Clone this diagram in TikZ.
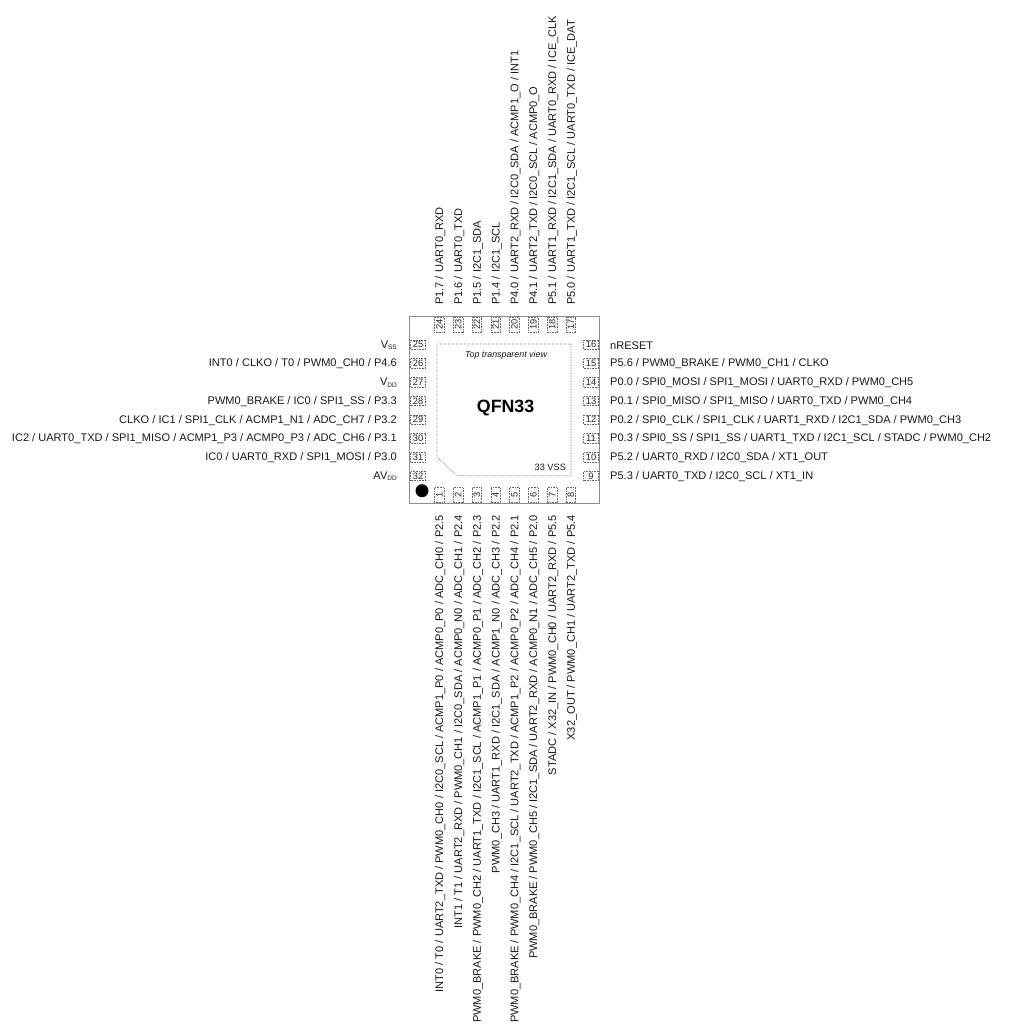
\documentclass[tikz,border=0pt]{standalone}
\usepackage{fontspec}
\setmainfont{Liberation Sans}
\newcommand{\pinsub}[1]{\raisebox{-1.5pt}{\fontsize{6.5}{6.5}\selectfont #1}}
\tikzset{
	pad/.style={draw=black!60, densely dotted, line width=0.6pt, inner sep=0pt, minimum width=15pt, minimum height=9.5pt, font=\fontsize{9.3}{9.3}\selectfont, text=black!85},
	pinlabel/.style={inner sep=0pt, text=black!90, font=\fontsize{11.05}{11.05}\selectfont}
}
\begin{document}
\begin{tikzpicture}[x=1pt,y=-1pt]
	\useasboundingbox (0,0) rectangle (1013,1034);
	% Package
	\draw[black!45, line width=0.8pt] (409.5,316.5) rectangle (599,503);
	\draw[black!60, densely dotted, line width=0.6pt] (437,344) -- (571,344) -- (571,475.7) -- (457,475.7) -- (437,457) -- cycle;
	\fill (422,490.7) circle (6.5);
	\node[font=\fontsize{17.8}{17.8}\selectfont\bfseries] (title) at (505.6,408.3) {QFN33};
	\node[pinlabel, font=\fontsize{8.85}{8.85}\selectfont\itshape] (view) at (506,355) {Top transparent view};
	\node[pinlabel, font=\fontsize{9.2}{9.2}\selectfont] (epad) at (550.3,467.3) {33 VSS};
	% Left pins
	\foreach \num/\txt [count=\i from 0] in {
		25/{V\pinsub{SS}},
		26/{INT0 / CLKO / T0 / PWM0\_CH0 / P4.6},
		27/{V\pinsub{DD}},
		28/{PWM0\_BRAKE / IC0 / SPI1\_SS / P3.3},
		29/{CLKO / IC1 / SPI1\_CLK / ACMP1\_N1 / ADC\_CH7 / P3.2},
		30/{IC2 / UART0\_TXD / SPI1\_MISO / ACMP1\_P3 / ACMP0\_P3 / ADC\_CH6 / P3.1},
		31/{IC0 / UART0\_RXD / SPI1\_MOSI / P3.0},
		32/{AV\pinsub{DD}}} {
		\node[pad] (pin\num) at (418,344.7+18.74*\i) {\num};
		\node[pinlabel, anchor=east] (lab\num) at (397,345.2+18.74*\i) {\txt};
	}
	% Right pins
	\foreach \num/\txt [count=\i from 0] in {
		16/{nRESET},
		15/{P5.6 / PWM0\_BRAKE / PWM0\_CH1 / CLKO},
		14/{P0.0 / SPI0\_MOSI / SPI1\_MOSI / UART0\_RXD / PWM0\_CH5},
		13/{P0.1 / SPI0\_MISO / SPI1\_MISO / UART0\_TXD / PWM0\_CH4},
		12/{P0.2 / SPI0\_CLK / SPI1\_CLK / UART1\_RXD / I2C1\_SDA / PWM0\_CH3},
		11/{P0.3 / SPI0\_SS / SPI1\_SS / UART1\_TXD / I2C1\_SCL / STADC / PWM0\_CH2},
		10/{P5.2 / UART0\_RXD / I2C0\_SDA / XT1\_OUT},
		9/{P5.3 / UART0\_TXD / I2C0\_SCL / XT1\_IN}} {
		\node[pad] (pin\num) at (591,344.7+18.74*\i) {\num};
		\node[pinlabel, anchor=west] (lab\num) at (610,345.2+18.74*\i) {\txt};
	}
	% Top pins
	\foreach \num/\txt [count=\i from 0] in {
		24/{P1.7 / UART0\_RXD},
		23/{P1.6 / UART0\_TXD},
		22/{P1.5 / I2C1\_SDA},
		21/{P1.4 / I2C1\_SCL},
		20/{P4.0 / UART2\_RXD / I2C0\_SDA / ACMP1\_O / INT1},
		19/{P4.1 / UART2\_TXD / I2C0\_SCL / ACMP0\_O},
		18/{P5.1 / UART1\_RXD / I2C1\_SDA / UART0\_RXD / ICE\_CLK},
		17/{P5.0 / UART1\_TXD / I2C1\_SCL / UART0\_TXD / ICE\_DAT}} {
		\node[pad, rotate=90] (pin\num) at (439.3+18.8*\i,324.7) {\num};
		\node[pinlabel, rotate=90, anchor=west] (lab\num) at (440.3+18.8*\i,305) {\txt};
	}
	% Bottom pins
	\foreach \num/\txt [count=\i from 0] in {
		1/{INT0 / T0 / UART2\_TXD / PWM0\_CH0 / I2C0\_SCL / ACMP1\_P0 / ACMP0\_P0 / ADC\_CH0 / P2.5},
		2/{INT1 / T1 / UART2\_RXD / PWM0\_CH1 / I2C0\_SDA / ACMP0\_N0 / ADC\_CH1 / P2.4},
		3/{PWM0\_BRAKE / PWM0\_CH2 / UART1\_TXD / I2C1\_SCL / ACMP1\_P1 / ACMP0\_P1 / ADC\_CH2 / P2.3},
		4/{PWM0\_CH3 / UART1\_RXD / I2C1\_SDA / ACMP1\_N0 / ADC\_CH3 / P2.2},
		5/{PWM0\_BRAKE / PWM0\_CH4 / I2C1\_SCL / UART2\_TXD / ACMP1\_P2 / ACMP0\_P2 / ADC\_CH4 / P2.1},
		6/{PWM0\_BRAKE / PWM0\_CH5 / I2C1\_SDA / UART2\_RXD / ACMP0\_N1 / ADC\_CH5 / P2.0},
		7/{STADC / X32\_IN / PWM0\_CH0 / UART2\_RXD / P5.5},
		8/{X32\_OUT / PWM0\_CH1 / UART2\_TXD / P5.4}} {
		\node[pad, rotate=90] (pin\num) at (439.3+18.8*\i,495.2) {\num};
		\node[pinlabel, rotate=90, anchor=east] (lab\num) at (440.3+18.8*\i,515) {\txt};
	}
\end{tikzpicture}
\end{document}
